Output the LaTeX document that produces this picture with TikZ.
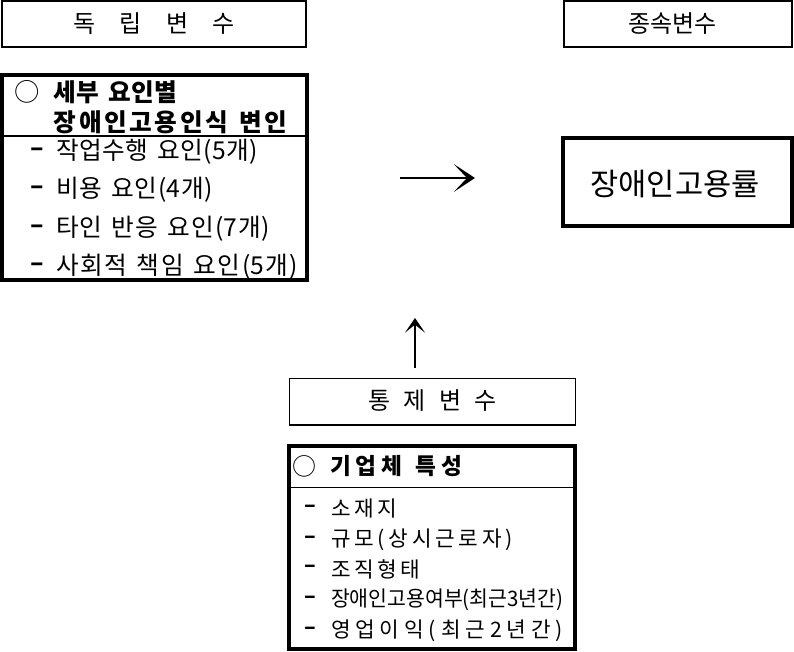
\documentclass[tikz,border=0pt]{standalone}
\usepackage{fontspec}
\usepackage{graphicx}
\setmainfont{Noto Sans CJK KR}
\usetikzlibrary{arrows.meta}
% own character class for Hangul syllables, with stretchable glue between letters
\newcount\hgc
\hgc="AC00
\loop
  \XeTeXcharclass\hgc=7
  \advance\hgc by 1
\ifnum\hgc<"D7A4 \repeat
\XeTeXinterchartokenstate=1
\XeTeXinterchartoks 7 7 = {\hskip 0pt plus 1pt\relax}
\XeTeXinterchartoks 7 0 = {\hskip 0pt plus 1pt\relax}
\XeTeXinterchartoks 0 7 = {\hskip 0pt plus 1pt\relax}
\newcommand{\ws}{\hspace{0.35em plus 1pt}}
\newcommand{\fitw}[2]{\makebox[#1][s]{#2}}
\begin{document}
\begin{tikzpicture}[x=0.75pt, y=-0.75pt]
\tikzset{
  thinbox/.style={draw, line width=1pt, inner sep=0pt, outer sep=0pt},
  thickbox/.style={draw, line width=3pt, inner sep=0pt, outer sep=0pt},
  divider/.style={line width=1pt},
  txt/.style={inner sep=0pt, outer sep=0pt, anchor=west},
  ctxt/.style={inner sep=0pt, outer sep=0pt},
  hd/.style={font=\fontsize{18pt}{21pt}\selectfont},
  ttlA/.style={font=\fontsize{18.5pt}{22pt}\selectfont\bfseries},
  itA/.style={font=\fontsize{18.5pt}{22pt}\selectfont},
  ttlB/.style={font=\fontsize{17pt}{20pt}\selectfont\bfseries},
  itB/.style={font=\fontsize{16pt}{19pt}\selectfont},
  circA/.style={font=\fontsize{19pt}{22pt}\selectfont},
  circB/.style={font=\fontsize{18pt}{21pt}\selectfont},
  bigt/.style={font=\fontsize{23pt}{27pt}\selectfont},
  rarr/.style={line width=1pt, -{Stealth[length=16pt,width=21pt,inset=10pt]}},
  uarr/.style={line width=1pt, -{Stealth[length=11pt,width=15pt,inset=6pt]}}
}
\useasboundingbox (0,0) rectangle (794,652);

% --- heading boxes
\node[thinbox, minimum width=228pt, minimum height=34.5pt] (b1) at (154,24) {};
\node[ctxt, hd] (t1) at (154,24) {\fitw{121.5pt}{독 립 변 수}};

\node[thinbox, minimum width=171pt, minimum height=34.5pt] (b2) at (678,24) {};
\node[ctxt, hd] (t2) at (672.5,24) {종속변수};

% --- independent variables box
\node[thickbox, minimum width=228.75pt, minimum height=153.75pt] (b3) at (154.5,178) {};
\coordinate (d3l) at (2,136);
\coordinate (d3r) at (307,136);
\draw[divider] (d3l) -- (d3r);
\node[ctxt, circA] (c3) at (27.5,92) {○};
\node[txt, ttlA] (t3a) at (54,92) {\fitw{92.25pt}{세부\ws 요인별}};
\node[txt, ttlA] (t3b) at (54,122) {\fitw{174.75pt}{장애인고용인식\ws 변인}};

\node[ctxt, itA] (d31) at (37,152) {\textbf{–}};
\node[txt, itA] (i31) at (56,152) {\fitw{151.5pt}{작업수행\ws 요인(5개)}};
\node[ctxt, itA] (d32) at (37,190) {\textbf{–}};
\node[txt, itA] (i32) at (56,190) {\fitw{117.75pt}{비용\ws 요인(4개)}};
\node[ctxt, itA] (d33) at (37,229) {\textbf{–}};
\node[txt, itA] (i33) at (56,229) {\fitw{160.5pt}{타인\ws 반응\ws 요인(7개)}};
\node[ctxt, itA] (d34) at (37,267) {\textbf{–}};
\node[txt, itA] (i34) at (56,267) {\fitw{181.5pt}{사회적\ws 책임\ws 요인(5개)}};

% --- dependent variable box
\node[thickbox, minimum width=171.75pt, minimum height=66pt] (b4) at (677.5,182.5) {};
\node[ctxt, bigt] (t4) at (675,184) {장애인고용률};

% --- arrows
\coordinate (ra) at (400,178);
\coordinate (rb) at (475,178);
\draw[rarr] (ra) -- (rb);
\coordinate (ua) at (415,368);
\coordinate (ub) at (415,318);
\draw[uarr] (ua) -- (ub);

% --- control variable box
\node[thinbox, minimum width=214.5pt, minimum height=34.9pt] (b5) at (432.5,401.75) {};
\node[ctxt, hd] (t5) at (432.5,401) {\fitw{96.75pt}{통 제 변 수}};

% --- firm characteristics box
\node[thickbox, minimum width=214.5pt, minimum height=152.25pt] (b6) at (432,548) {};
\coordinate (d6l) at (289,487.5);
\coordinate (d6r) at (575,487.5);
\draw[divider] (d6l) -- (d6r);
\node[ctxt, circB] (c6) at (304,466) {○};
\node[txt, ttlB] (t6) at (330,466) {\fitw{99pt}{기업체\ws 특성}};

\node[ctxt, itB] (d61) at (310,509) {\textbf{–}};
\node[txt, itB] (i61) at (331,509) {\fitw{49.5pt}{소재지}};
\node[ctxt, itB] (d62) at (310,540) {\textbf{–}};
\node[txt, itB] (i62) at (331,540) {\fitw{136.5pt}{규모(상시근로자)}};
\node[ctxt, itB] (d63) at (310,569) {\textbf{–}};
\node[txt, itB] (i63) at (331,569) {\fitw{66.75pt}{조직형태}};
\node[ctxt, itB] (d64) at (310,600) {\textbf{–}};
\node[txt, itB] (i64) at (331,600) {\scalebox{0.96}[1]{장애인고용여부(최근3년간)}};
\node[ctxt, itB] (d65) at (310,631) {\textbf{–}};
\node[txt, itB] (i65) at (331,631) {\fitw{174pt}{영업이익(최근2년간)}};
\end{tikzpicture}
\end{document}
